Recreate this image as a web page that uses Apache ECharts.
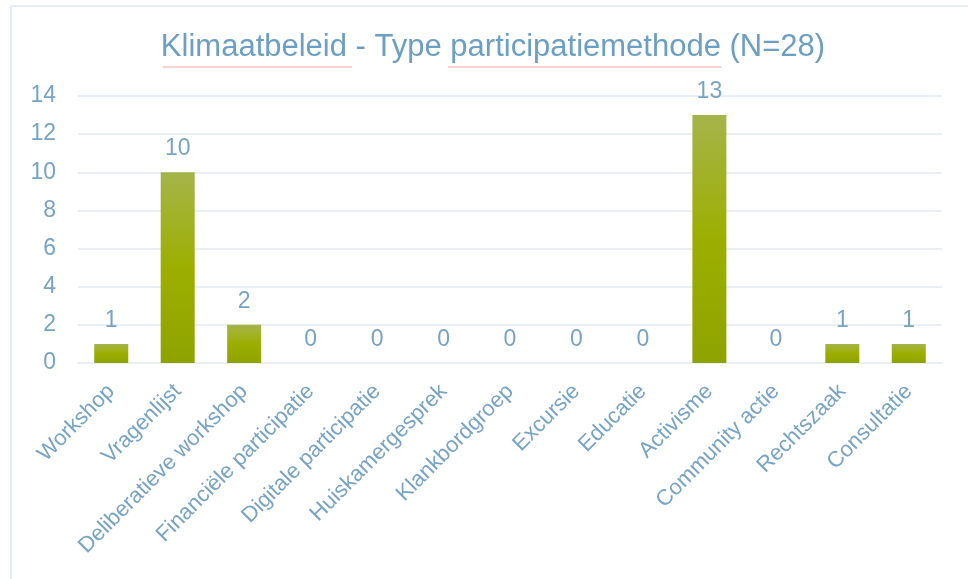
<!DOCTYPE html>
<html>
<head>
<meta charset="utf-8">
<title>Klimaatbeleid - Type participatiemethode</title>
<script src="https://cdn.jsdelivr.net/npm/echarts@6/dist/echarts.min.js"></script>
<style>
  html, body { margin: 0; padding: 0; background: #fff; }
  #chart { width: 968px; height: 579px; }
</style>
</head>
<body>
<div id="chart"></div>
<script>
// data
const categories = ['Workshop', 'Vragenlijst', 'Deliberatieve workshop', 'Financiële participatie',
  'Digitale participatie', 'Huiskamergesprek', 'Klankbordgroep', 'Excursie', 'Educatie',
  'Activisme', 'Community actie', 'Rechtszaak', 'Consultatie']
const counts = [1, 10, 2, 0, 0, 0, 0, 0, 0, 13, 0, 1, 1]
const yTicks = [0, 2, 4, 6, 8, 10, 12, 14]
const titleText = 'Klimaatbeleid - Type participatiemethode (N=28)'

const textColor = '#76a4c6'
const gridColor = '#e9eff5'
const font = '"Liberation Sans", Arial, sans-serif'

let myChart = echarts.init(document.getElementById('chart'))
myChart.setOption({
  animation: false,
  backgroundColor: '#fff',
  graphic: [
    {
      type: 'rect',
      shape: { x: 11, y: 6, width: 1000, height: 620 },
      style: { fill: 'none', stroke: '#e6edf4', lineWidth: 2 },
      silent: true
    },
    {
      type: 'text',
      x: 493,
      y: 47,
      style: {
        text: titleText,
        fill: '#6b9fc5',
        font: '31px ' + font,
        textAlign: 'center',
        textVerticalAlign: 'middle'
      }
    },
    // spell-check squiggles under the title words
    {
      type: 'line',
      shape: { x1: 163, y1: 67, x2: 352, y2: 67 },
      style: { stroke: '#f3a3a3', lineWidth: 1 }
    },
    {
      type: 'line',
      shape: { x1: 448, y1: 67, x2: 722, y2: 67 },
      style: { stroke: '#f3a3a3', lineWidth: 1 }
    }
  ],
  grid: {
    top: 96,
    left: 78,
    right: 26,
    bottom: 216,
    containLabel: false
  },
  xAxis: {
    type: 'category',
    data: categories,
    axisTick: { show: false },
    axisLine: { show: true, lineStyle: { color: gridColor, width: 2 } },
    axisLabel: {
      interval: 0,
      rotate: 45,
      margin: 25,
      color: textColor,
      fontSize: 22,
      fontFamily: font
    }
  },
  yAxis: {
    type: 'value',
    min: yTicks[0],
    max: yTicks[yTicks.length - 1],
    interval: 2,
    axisLine: { show: false },
    axisTick: { show: false },
    axisLabel: {
      margin: 22,
      color: textColor,
      fontSize: 23,
      fontFamily: font
    },
    splitLine: { lineStyle: { color: gridColor, width: 2 } }
  },
  series: [
    {
      type: 'bar',
      data: counts,
      barWidth: 34,
      itemStyle: {
        borderWidth: 0,
        color: new echarts.graphic.LinearGradient(0, 0, 0, 1, [
          { offset: 0, color: '#a5b44a' },
          { offset: 0.5, color: '#9caf00' },
          { offset: 1, color: '#8fa300' }
        ])
      },
      label: {
        show: true,
        position: 'top',
        distance: 12,
        color: textColor,
        fontSize: 23,
        fontFamily: font
      }
    }
  ]
})
window.onresize = function () {
  myChart.resize()
}
</script>
</body>
</html>
